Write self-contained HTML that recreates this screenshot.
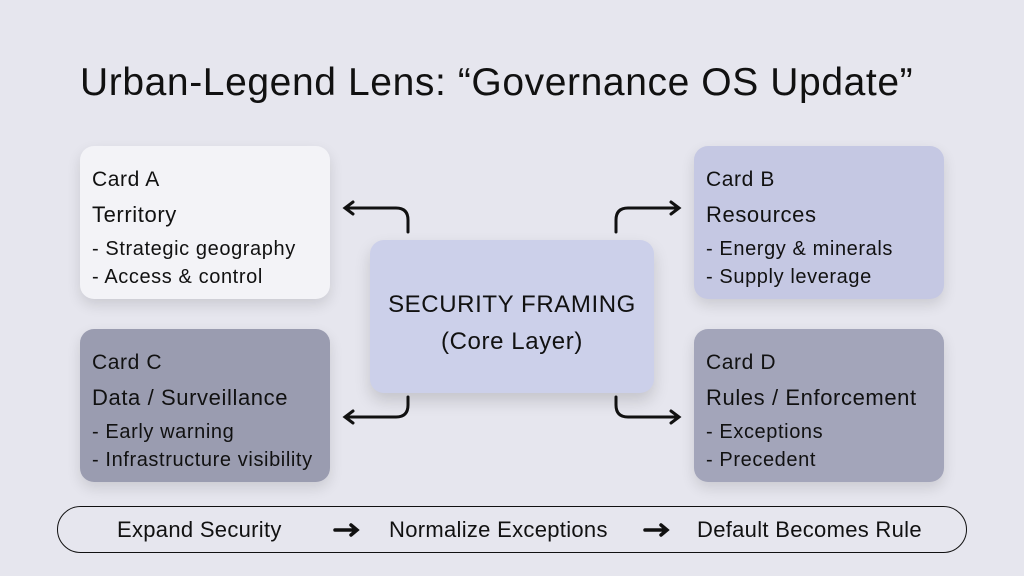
<!DOCTYPE html>
<html><head><meta charset="utf-8"><style>
body{margin:0;width:1024px;height:576px;background:#e6e6ee;font-family:"Liberation Sans",sans-serif;color:#111;position:relative;overflow:hidden}
.t{position:absolute;left:80px;top:61px;font-size:39px;font-weight:500;letter-spacing:0.6px;white-space:nowrap}
.c{position:absolute;width:250px;height:153px;border-radius:14px;box-shadow:0 6px 14px rgba(0,0,0,0.12);box-sizing:border-box;padding:22px 12px;white-space:nowrap}
.c .h{font-size:21px;line-height:24px;margin-bottom:11px;letter-spacing:0.6px}
.c .s{font-size:22px;line-height:24px;margin-bottom:8px;letter-spacing:0.6px}
.c .b{font-size:20px;line-height:28px;letter-spacing:0.6px}
.ctr{position:absolute;left:370px;top:240px;width:284px;height:153px;background:#ccd0ea;border-radius:14px;box-shadow:0 8px 16px rgba(0,0,0,0.15);text-align:center;font-size:24px;line-height:37px;padding-top:46px;box-sizing:border-box;letter-spacing:0.6px;white-space:nowrap}
.pill{position:absolute;left:57px;top:506px;width:910px;height:47px;border:1.5px solid #111;border-radius:24px;box-sizing:border-box;font-size:22px;letter-spacing:0.3px;white-space:nowrap}
.pill span{position:absolute;top:10px}
</style></head><body>
<div class="t">Urban-Legend Lens: “Governance OS Update”</div>
<div class="c" style="left:80px;top:146px;background:#f3f3f7"><div class="h">Card A</div><div class="s">Territory</div><div class="b">- Strategic geography<br>- Access &amp; control</div></div>
<div class="c" style="left:694px;top:146px;background:#c5c8e3"><div class="h">Card B</div><div class="s">Resources</div><div class="b">- Energy &amp; minerals<br>- Supply leverage</div></div>
<div class="c" style="left:80px;top:329px;background:#9a9cb0"><div class="h">Card C</div><div class="s">Data / Surveillance</div><div class="b">- Early warning<br>- Infrastructure visibility</div></div>
<div class="c" style="left:694px;top:329px;background:#a3a5ba"><div class="h">Card D</div><div class="s">Rules / Enforcement</div><div class="b">- Exceptions<br>- Precedent</div></div>
<div class="ctr">SECURITY FRAMING<br>(Core Layer)</div>
<svg width="1024" height="576" style="position:absolute;left:0;top:0" fill="none" stroke="#111" stroke-width="3" stroke-linecap="round">
<path d="M408 232 V220 Q408 208 396 208 H346 M353 202 L345 208 L353 214"/>
<path d="M616 232 V220 Q616 208 628 208 H678 M671 202 L679 208 L671 214"/>
<path d="M408 397 V405 Q408 417 396 417 H346 M353 411 L345 417 L353 423"/>
<path d="M616 397 V405 Q616 417 628 417 H678 M671 411 L679 417 L671 423"/>
<path d="M335 530 H356 M351 525 L357 530 L351 535" stroke-width="3.5"/>
<path d="M645 530 H666 M661 525 L667 530 L661 535" stroke-width="3.5"/>
</svg>
<div class="pill"><span style="left:59px">Expand Security</span><span style="left:331px">Normalize Exceptions</span><span style="left:639px">Default Becomes Rule</span></div>
</body></html>
